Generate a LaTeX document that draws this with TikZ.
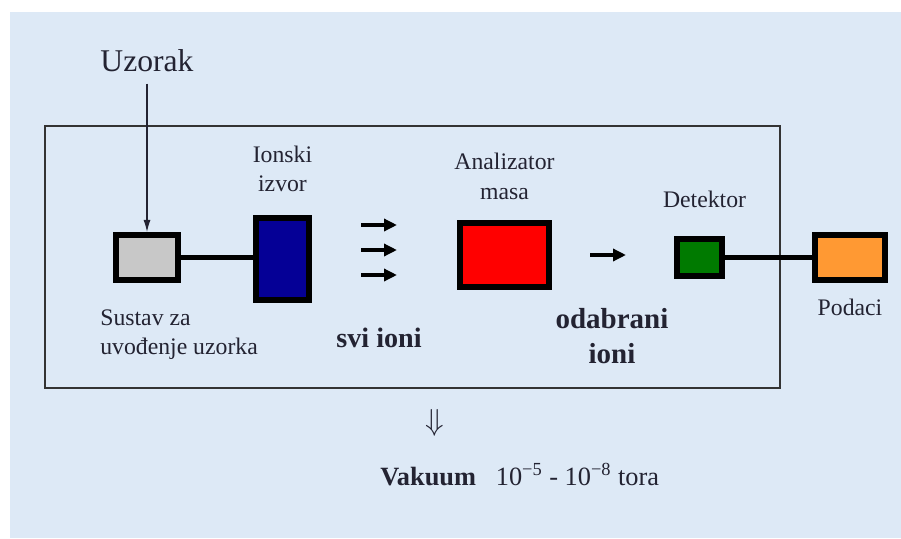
\documentclass[tikz,border=0pt]{standalone}
\usepackage{fontspec}
\setmainfont{Liberation Serif}
\usetikzlibrary{positioning,arrows.meta}
\definecolor{pozadina}{RGB}{221,233,246}
\definecolor{tekst}{RGB}{35,35,50}
\definecolor{siva}{RGB}{200,200,200}
\definecolor{plava}{RGB}{5,0,150}
\definecolor{crvena}{RGB}{255,0,0}
\definecolor{zelena}{RGB}{0,122,0}
\definecolor{narancasta}{RGB}{255,153,51}

\begin{document}
\begin{tikzpicture}[
	kutija/.style={draw=black,line width=3.2pt,inner sep=0pt},
	oznaka/.style={text=tekst,inner sep=0pt,align=center,font=\fontsize{13.5}{17}\selectfont},
	veza/.style={line width=3.2pt},
	strelica/.style={line width=2pt,-{Triangle[length=0.26cm,width=0.24cm]}}
	]
	\useasboundingbox(0,0)rectangle(18.02,10.76);
	\fill[pozadina](0.2,0)rectangle(18.02,10.52);
	% vakuumska komora
	\draw[line width=0.85pt,draw=black!80](0.9,3)rectangle(15.6,8.24);

	\node[kutija,fill=siva,minimum width=1.248cm,minimum height=0.908cm](sustav)at(2.94,5.61){};
	\node[kutija,fill=plava,minimum width=1.068cm,minimum height=1.648cm](izvor)at(5.65,5.58){};
	\node[kutija,fill=crvena,minimum width=1.788cm,minimum height=1.288cm](analizator)at(10.09,5.66){};
	\node[kutija,fill=zelena,minimum width=0.908cm,minimum height=0.748cm](detektor)at(13.99,5.61){};
	\node[kutija,fill=narancasta,minimum width=1.408cm,minimum height=0.908cm](podaci)at(17.0,5.61){};

	\node[oznaka,font=\fontsize{18}{20}\selectfont,inner sep=0.22cm,anchor=base](uzorak)at(2.94,9.32){Uzorak};
	\node[oznaka,above=0.45cm of izvor]{Ionski\\izvor};
	\node[oznaka,above=0.4cm of analizator]{Analizator\\masa};
	\node[oznaka,above=0.56cm of detektor,xshift=0.1cm]{Detektor};
	\node[oznaka,align=left,below right=0.52cm and -0.26cm of sustav.south west]{Sustav za\\uvođenje uzorka};
	\node[oznaka,below=0.32cm of podaci]{Podaci};
	\node[oznaka,font=\bfseries\fontsize{16}{20}\selectfont,anchor=base](svi)at(7.58,3.82){svi ioni};
	\node[oznaka,font=\bfseries\fontsize{16.5}{20}\selectfont,anchor=north](odabrani)at(12.24,4.6){odabrani\\ioni};
	\node[oznaka,font=\fontsize{16}{18}\selectfont](dolje)at(8.7,2.3){$\Downarrow$};
	\node[oznaka,font=\fontsize{15}{18}\selectfont,anchor=base west](vakuum)at(7.6,1.06){\textbf{Vakuum}\hspace{0.75em}10\textsuperscript{−5} - 10\textsuperscript{−8} tora};

	\draw[line width=0.6pt,draw=tekst,-{Latex[length=0.24cm,width=0.14cm]}](uzorak.south)--(sustav.north);
	\draw[veza](sustav)--(sustav-|izvor.west);
	\draw[veza](detektor)--(podaci);

	% ioni
	\foreach \y[count=\i] in {6.26,5.76,5.26}{
		\coordinate(p\i)at(7.22,\y);
		\coordinate(k\i)at(7.94,\y);
		\draw[strelica](p\i)--(k\i);
	}
	\coordinate(p4)at(11.8,5.66);
	\coordinate(k4)at(12.52,5.66);
	\draw[strelica](p4)--(k4);
\end{tikzpicture}
\end{document}
